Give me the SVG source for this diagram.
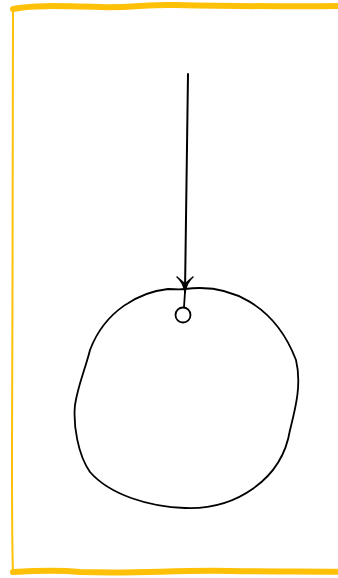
<svg xmlns="http://www.w3.org/2000/svg" width="338" height="578" viewBox="0 0 338 578">
<style>
.ink{fill:none;stroke:#000;stroke-linecap:round;stroke-linejoin:round}
.frame{fill:none;stroke:#FFC107;stroke-linecap:round;stroke-linejoin:round}
</style>
<rect width="338" height="578" fill="#fff"/>
<g id="frame">
<path class="frame" stroke-width="6" d="M13,9 C30,5 60,6 100,7 C130,8 150,4 175,5 C230,6 290,7 345,6"/>
<path class="frame" stroke-width="2" d="M13,9 C12,100 13,300 12,450 C12,510 12,550 13,572"/>
<path class="frame" stroke-width="6" d="M13,572 C30,571 60,570 80,572 C140,574 170,570 230,571 C280,572 310,571 345,572"/>
</g>
<g id="circle">
<path class="ink" stroke-width="1.8" d="M185,289 C230,283 275,305 296,360 C302,385 295,410 290,430 C282,480 235,510 185,508 C150,507 110,495 90,472 C78,455 73,425 75,405 C78,385 85,370 90,350 C105,310 140,292 168,289 C175,289 178,290 185,289 Z"/>
</g>
<g id="port">
<circle class="ink" stroke-width="1.8" cx="183" cy="315" r="7.5"/>
</g>
<g id="connectors">
<path class="ink" stroke-width="2" d="M188,74 C187,130 186,200 185,292"/>
<path d="M177,277 Q183,282 185,292 Q187,282 193,277 Q186,283 185,284 Q184,283 177,277 Z" fill="#000" stroke="#000" stroke-width="1.5" stroke-linejoin="round"/>
<path class="ink" stroke-width="1.8" d="M185,292 L184,307"/>
</g>
</svg>
